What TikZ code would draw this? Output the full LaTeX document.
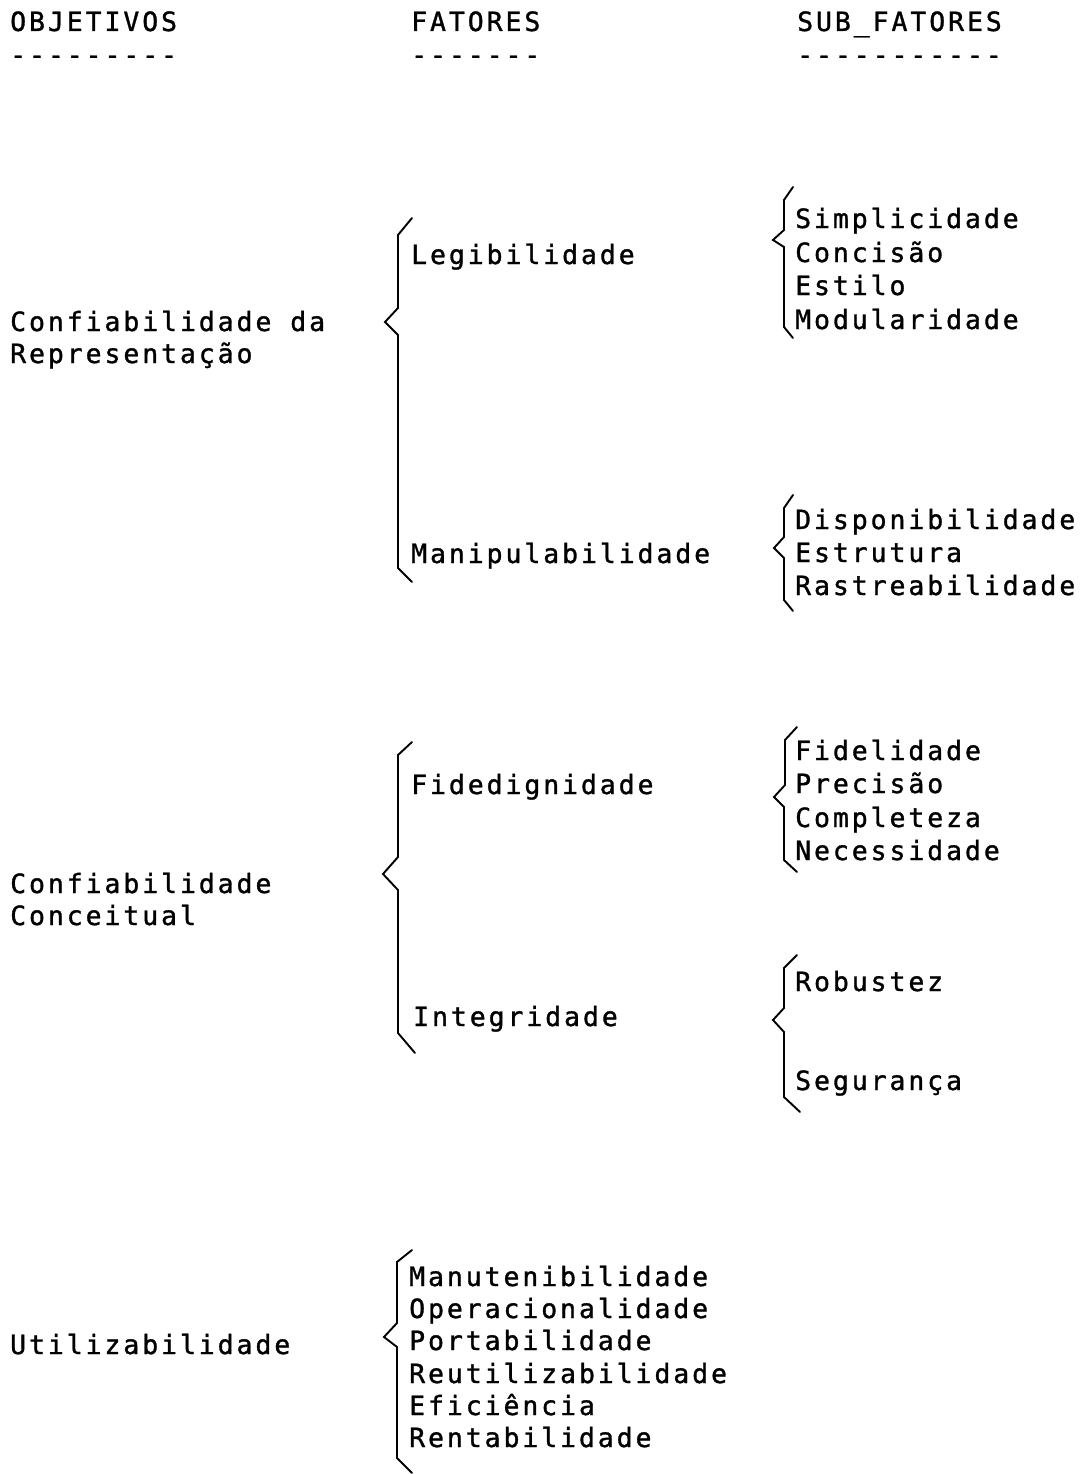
\documentclass[tikz,border=0pt]{standalone}
\usepackage{fontspec}
\setmonofont{DejaVu Sans Mono}[LetterSpace=11, FakeBold=1.2]
\begin{document}
\begin{tikzpicture}[x=1pt,y=-1pt,
  lbl/.style={anchor=base west, inner sep=0pt, font=\fontsize{26.5}{30}\selectfont\ttfamily},
  brc/.style={line width=1.9pt, line join=miter, line cap=round}]
\useasboundingbox (0,0) rectangle (1087,1474);

% column headings and their dashed rules
\node[lbl] (hobj) at (10,31) {OBJETIVOS};
\node[lbl] (hobjr) at (10,64) {---------};
\node[lbl] (hfat) at (411,31) {FATORES};
\node[lbl] (hfatr) at (411,64) {-------};
\node[lbl] (hsub) at (797,31) {SUB\_FATORES};
\node[lbl] (hsubr) at (797,64) {-----------};

% objectives
\node[lbl] (o1a) at (10,331) {Confiabilidade da};
\node[lbl] (o1b) at (10,363) {Representação};
\node[lbl] (o2a) at (10,893) {Confiabilidade};
\node[lbl] (o2b) at (10,925) {Conceitual};
\node[lbl] (o3) at (10,1354) {Utilizabilidade};

% factors
\node[lbl] (f1) at (411,264) {Legibilidade};
\node[lbl] (f2) at (411,563) {Manipulabilidade};
\node[lbl] (f3) at (411,794) {Fidedignidade};
\node[lbl] (f4) at (413,1026) {Integridade};
\node[lbl] (f5) at (409,1286) {Manutenibilidade};
\node[lbl] (f6) at (409,1318) {Operacionalidade};
\node[lbl] (f7) at (409,1350) {Portabilidade};
\node[lbl] (f8) at (409,1383) {Reutilizabilidade};
\node[lbl] (f9) at (409,1415) {Eficiência};
\node[lbl] (f10) at (409,1447) {Rentabilidade};

% sub-factors
\node[lbl] (s1) at (795,228) {Simplicidade};
\node[lbl] (s2) at (795,262) {Concisão};
\node[lbl] (s3) at (795,295) {Estilo};
\node[lbl] (s4) at (795,329) {Modularidade};
\node[lbl] (s5) at (795,529) {Disponibilidade};
\node[lbl] (s6) at (795,562) {Estrutura};
\node[lbl] (s7) at (795,595) {Rastreabilidade};
\node[lbl] (s8) at (795,760) {Fidelidade};
\node[lbl] (s9) at (795,793) {Precisão};
\node[lbl] (s10) at (795,827) {Completeza};
\node[lbl] (s11) at (795,860) {Necessidade};
\node[lbl] (s12) at (795,991) {Robustez};
\node[lbl] (s13) at (795,1090) {Segurança};

% braces built from straight strokes
\draw[brc] (412,218) -- (398,235) -- (398,308) -- (385,322) -- (398,335) -- (398,568) -- (412,582);
\draw[brc] (412,742) -- (398,755) -- (398,857) -- (383,874) -- (398,890) -- (398,1033) -- (415,1053);
\draw[brc] (412,1250) -- (397,1262) -- (397,1323) -- (384,1337) -- (397,1347) -- (397,1458) -- (412,1473);
\draw[brc] (793,187) -- (784,200) -- (784,230) -- (773,240) -- (784,247) -- (784,327) -- (793,338);
\draw[brc] (793,495) -- (784,508) -- (784,537) -- (774,548) -- (784,558) -- (784,600) -- (793,611);
\draw[brc] (797,727) -- (785,740) -- (785,785) -- (774,797) -- (784,807) -- (784,860) -- (797,872);
\draw[brc] (797,955) -- (784,968) -- (784,1008) -- (773,1020) -- (784,1032) -- (784,1097) -- (800,1112);
\end{tikzpicture}
\end{document}
